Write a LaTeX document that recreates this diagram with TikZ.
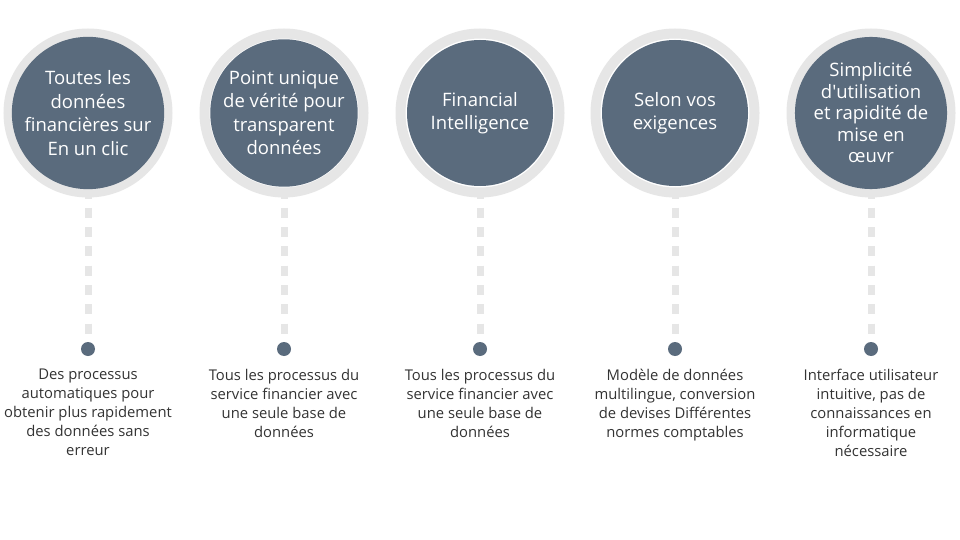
\documentclass[tikz,border=0pt]{standalone}
\usepackage{fontspec}
\setmainfont{Open Sans}[Ligatures={TeX,NoCommon}]
\usetikzlibrary{positioning}
\definecolor{slate}{HTML}{5A6B7D}
\definecolor{ringgray}{HTML}{E6E6E6}
\definecolor{bodytext}{HTML}{333333}

\begin{document}
\begin{tikzpicture}[x=1pt,y=-1pt,
  ring/.style={circle, draw=ringgray, line width=10pt, minimum size=159pt, inner sep=0pt, outer sep=0pt},
  disc/.style={circle, fill=slate, minimum size=146pt, inner sep=0pt, text=white, align=center,
    font=\fontsize{18.5}{23.5}\selectfont},
  stem/.style={draw=ringgray, line width=7pt, dash pattern=on 10pt off 9.3pt, dash phase=4pt},
  bead/.style={circle, fill=slate, minimum size=14pt, inner sep=0pt, outer sep=0pt},
  desc/.style={anchor=north, inner sep=0pt, text=bodytext, align=center,
    font=\fontsize{14.8}{19}\selectfont}]
  \useasboundingbox[fill=white] (0,0) rectangle (960,540);

  \node[ring] (ring1) at (88,113) {};
  \node[ring] (ring2) at (284,113) {};
  \node[ring] (ring3) at (480,113) {};
  \node[ring] (ring4) at (675,113) {};
  \node[ring] (ring5) at (871,113) {};

  \node[disc] (circ1) at (ring1) {Toutes les\\données\\financières sur\\En un clic};
  \node[disc] (circ2) at (ring2) {Point unique\\de vérité pour\\transparent\\données};
  \node[disc] (circ3) at (ring3) {Financial\\Intelligence};
  \node[disc] (circ4) at (ring4) {Selon vos\\exigences};
  \node[disc, font=\fontsize{18.5}{21.5}\selectfont] (circ5) at (ring5) {Simplicité\\d\textquotesingle utilisation\\et rapidité de\\mise en\\œuvr};

  \node[bead, below=149.5pt of ring1] (bead1) {};
  \node[bead, below=149.5pt of ring2] (bead2) {};
  \node[bead, below=149.5pt of ring3] (bead3) {};
  \node[bead, below=149.5pt of ring4] (bead4) {};
  \node[bead, below=149.5pt of ring5] (bead5) {};

  \path[stem] (ring1.south) -- (bead1.north);
  \path[stem] (ring2.south) -- (bead2.north);
  \path[stem] (ring3.south) -- (bead3.north);
  \path[stem] (ring4.south) -- (bead4.north);
  \path[stem] (ring5.south) -- (bead5.north);

  \node[desc, below=13pt of bead1] (desc1) {Des processus\\automatiques pour\\obtenir plus rapidement\\des données sans\\erreur};
  \node[desc, below=13pt of bead2] (desc2) {Tous les processus du\\service financier avec\\une seule base de\\données};
  \node[desc, below=13pt of bead3] (desc3) {Tous les processus du\\service financier avec\\une seule base de\\données};
  \node[desc, below=13pt of bead4] (desc4) {Modèle de données\\multilingue, conversion\\de devises Différentes\\normes comptables};
  \node[desc, below=13pt of bead5] (desc5) {Interface utilisateur\\intuitive, pas de\\connaissances en\\informatique\\nécessaire};
\end{tikzpicture}
\end{document}
